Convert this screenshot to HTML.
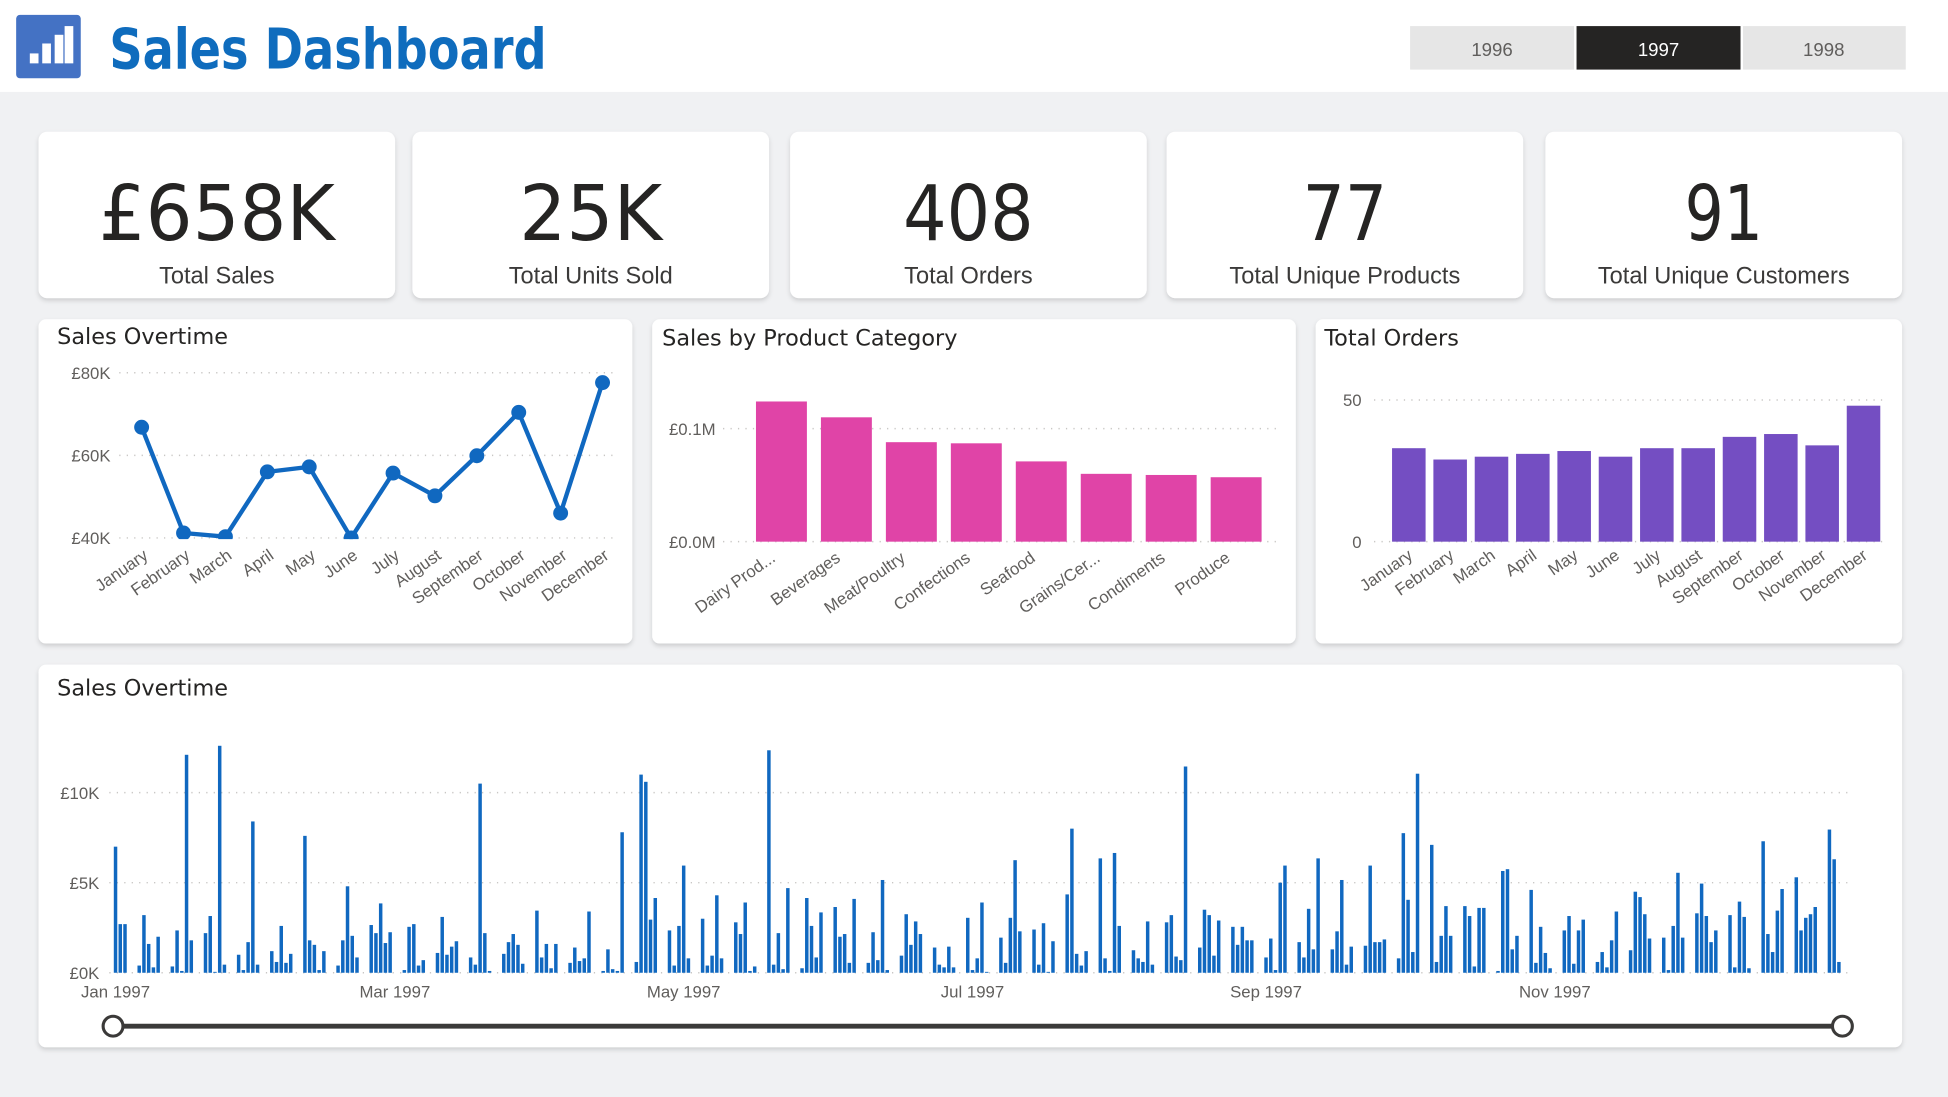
<!DOCTYPE html>
<html><head><meta charset="utf-8">
<style>
html,body{margin:0;padding:0;background:#f0f1f3;}
svg{display:block}
text{font-family:"Liberation Sans","DejaVu Sans",sans-serif;}
.tick{font-size:13.5px;fill:#605e5c;}
.ttl{font-family:"DejaVu Sans",sans-serif;font-size:18px;fill:#252423;}
.kpi{font-family:"DejaVu Sans",sans-serif;font-size:62px;fill:#252423;}
.kpil{font-family:"Liberation Sans",sans-serif;font-size:19px;fill:#3b3a39;}
</style></head>
<body>
<svg id="root" width="1948" height="1097" viewBox="0 0 1568 883" xmlns="http://www.w3.org/2000/svg">
<defs>
<filter id="sh" x="-5%" y="-5%" width="110%" height="115%"><feDropShadow dx="0" dy="2" stdDeviation="2" flood-color="#000" flood-opacity="0.15"/></filter>
<clipPath id="lineclip"><rect x="60" y="290" width="440" height="144"/></clipPath>
</defs>
<rect x="0" y="0" width="1568" height="883" fill="#f0f1f3"/>
<g>
<rect x="0" y="0" width="1568" height="74" fill="#ffffff"/>
<g>
<rect x="13" y="12" width="52" height="51" rx="3" fill="#4472c4"/>
<rect x="24" y="43" width="7" height="8" fill="#fff"/>
<rect x="34" y="35" width="7" height="16" fill="#fff"/>
<rect x="44" y="28" width="7" height="23" fill="#fff"/>
<rect x="53" y="21" width="7" height="30" fill="#fff" transform="translate(-1,0)"/>
</g>
<text x="88" y="55" font-size="45" font-weight="bold" fill="#0f6cbd" textLength="352" lengthAdjust="spacingAndGlyphs" style="font-family:'DejaVu Sans',sans-serif">Sales Dashboard</text>
<g>
<rect x="1135" y="21" width="132" height="35" fill="#e6e6e6"/>
<text x="1201" y="45" text-anchor="middle" font-size="15" fill="#605e5c">1996</text>
<rect x="1269" y="21" width="132" height="35" fill="#252423"/>
<text x="1335" y="45" text-anchor="middle" font-size="15" fill="#ffffff">1997</text>
<rect x="1403" y="21" width="131" height="35" fill="#e6e6e6"/>
<text x="1468" y="45" text-anchor="middle" font-size="15" fill="#605e5c">1998</text>
</g>
</g>
<g id="kpis"></g>
<g>
<rect x="31" y="257" width="478" height="261" rx="6" fill="#fff" filter="url(#sh)"/>
<text x="46" y="277" class="ttl">Sales Overtime</text>
<g id="linechart"></g>
</g>
<g>
<rect x="525" y="257" width="518" height="261" rx="6" fill="#fff" filter="url(#sh)"/>
<text x="533" y="278" class="ttl">Sales by Product Category</text>
<g id="catchart"></g>
</g>
<g>
<rect x="1059" y="257" width="472" height="261" rx="6" fill="#fff" filter="url(#sh)"/>
<text x="1066" y="278" class="ttl">Total Orders</text>
<g id="ordchart"></g>
</g>
<g>
<rect x="31" y="535" width="1500" height="308" rx="6" fill="#fff" filter="url(#sh)"/>
<text x="46" y="560" class="ttl">Sales Overtime</text>
<g id="dailychart"></g>
<g>
<line x1="91" y1="826" x2="1483" y2="826" stroke="#3b3a39" stroke-width="4"/>
<circle cx="91" cy="826" r="8" fill="#fff" stroke="#3b3a39" stroke-width="2.5"/>
<circle cx="1483" cy="826" r="8" fill="#fff" stroke="#3b3a39" stroke-width="2.5"/>
</g>
</g>
</svg>
<script>
const kpiValues = ["£658K","25K","408","77","91"];
const kpiLabels = ["Total Sales","Total Units Sold","Total Orders","Total Unique Products","Total Unique Customers"];
const months = ["January","February","March","April","May","June","July","August","September","October","November","December"];
const monthlySales = [66.8,41.2,40.3,56.0,57.2,40.0,55.7,50.2,59.9,70.4,46.0,77.6];
const lineTicks = [40,60,80];
const categories = ["Dairy Prod...","Beverages","Meat/Poultry","Confections","Seafood","Grains/Cer...","Condiments","Produce"];
const categorySales = [0.124,0.110,0.088,0.087,0.071,0.060,0.059,0.057];
const catTicks = [0,0.1];
const monthlyOrders = [33,29,30,31,32,30,33,33,37,38,34,48];
const orderTicks = [0,50];
const dailyTicks = [0,5,10];
const dailyTickLabels = ["Jan 1997","Mar 1997","May 1997","Jul 1997","Sep 1997","Nov 1997"];
// weekday sales in £K, 1 Jan 1997 .. 31 Dec 1997 (weekends skipped)
const dailySales = [
7.0,2.7,2.7,
0.4,3.2,1.6,0.3,2.0, 0.35,2.35,0.1,12.1,1.8, 2.2,3.15,0.05,12.6,0.45, 1.0,0.15,1.7,8.4,0.45,
1.2,0.6,2.6,0.55,1.05, 7.6,1.8,1.55,0.15,1.2, 0.4,1.8,4.8,2.05,0.85, 2.65,2.2,3.85,1.65,2.25,
0.15,2.55,2.7,0.4,0.7, 1.1,3.1,1.0,1.45,1.75, 0.85,0.45,10.5,2.2,0.1, 1.05,1.7,2.15,1.55,0.5,
3.45,0.85,1.6,0.25,1.6, 0.55,1.4,0.65,0.8,3.4, 0.1,1.3,0.2,0.1,7.8, 0.6,11.0,10.6,2.95,4.15,
2.35,0.4,2.6,5.95,0.8, 3.0,0.4,0.95,4.3,0.8, 2.8,2.15,3.9,0.1,0.35, 12.35,0.45,2.2,0.2,4.7,
0.25,4.15,2.6,0.85,3.35, 3.65,2.0,2.15,0.55,4.1, 0.55,2.25,0.7,5.15,0.15, 0.95,3.25,1.55,2.85,2.15,
1.4,0.45,0.3,1.45,0.3, 3.05,0.15,0.8,3.9,0.05, 1.95,0.55,3.05,6.25,2.3, 2.4,0.45,2.75,0.05,1.75,
4.35,8.0,1.05,0.4,1.2, 6.35,0.8,0.1,6.65,2.6, 1.25,0.8,0.6,2.85,0.45, 2.8,3.2,0.9,0.7,11.45,
1.4,3.5,3.2,0.95,2.9, 2.55,1.55,2.55,1.8,1.8, 0.85,1.9,0.15,5.0,5.95, 1.7,0.85,3.55,1.3,6.35,
1.3,2.3,5.15,0.45,1.45, 1.5,5.95,1.7,1.7,1.85, 0.8,7.75,4.05,1.15,11.05, 7.1,0.6,2.05,3.7,2.05,
3.7,3.15,0.35,3.6,3.6, 0.1,5.65,5.75,1.3,2.05, 4.6,0.55,2.55,1.1,0.25, 2.35,3.15,0.5,2.35,2.95,
0.6,1.15,0.3,1.8,3.4, 1.25,4.5,4.2,3.25,1.9, 1.95,0.15,2.6,5.55,1.95, 3.3,4.95,3.15,1.7,2.35,
3.2,0.3,3.95,3.1,0.25, 7.3,2.15,1.15,3.45,4.65, 5.3,2.35,3.05,3.25,3.65, 7.95,6.3,0.6
];

const NS="http://www.w3.org/2000/svg";
function mk(parent,tag,attrs,txt){const e=document.createElementNS(NS,tag);for(const k in attrs)e.setAttribute(k,attrs[k]);if(txt!==undefined)e.textContent=txt;parent.appendChild(e);return e;}

// KPI cards
const kg=document.getElementById('kpis');
const kx=[31,332,636,939,1244];
const kw=[190,115,105,68,63];
kpiValues.forEach((v,i)=>{
  const g=mk(kg,'g',{});
  
  
  mk(g,'rect',{x:kx[i],y:106,width:287,height:134,rx:7,fill:'#fff',filter:'url(#sh)'});
  const t=mk(g,'text',{x:kx[i]+143.5,y:193,'text-anchor':'middle',class:'kpi',textLength:kw[i],lengthAdjust:'spacingAndGlyphs'},v);
  
  
  const l=mk(g,'text',{x:kx[i]+143.5,y:228,'text-anchor':'middle',class:'kpil'},kpiLabels[i]);
  
  
});

function gridline(g,x1,x2,y){mk(g,'line',{x1:x1,x2:x2,y1:y,y2:y,stroke:'#c8c6c4','stroke-width':1.2,'stroke-dasharray':'1 5'});}
function rotLabel(g,x,y,t){return mk(g,'text',{x:x,y:y,class:'tick','text-anchor':'end',transform:`rotate(-35 ${x} ${y})`},t);}

// Line chart
(function(){
  const g=document.getElementById('linechart');
  const y=v=>433-(v-40)*(433-300)/40;
  const x=i=>114+i*(485-114)/11;
  lineTicks.forEach(t=>{gridline(g,96,496,y(t));const e=mk(g,'text',{x:89,y:y(t)+5,class:'tick','text-anchor':'end'},'£'+t+'K');});
  const cg=mk(g,'g',{'clip-path':'url(#lineclip)'});
  const p=mk(cg,'polyline',{points:monthlySales.map((v,i)=>x(i)+','+y(v)).join(' '),fill:'none',stroke:'#1068c0','stroke-width':3.5,'stroke-linejoin':'round'});
  
  
  monthlySales.forEach((v,i)=>{const c=mk(cg,'circle',{cx:x(i),cy:y(v),r:6,fill:'#1068c0'});});
  months.forEach((m,i)=>{const e=rotLabel(g,x(i)+6,449,m);});
})();

// Category chart
(function(){
  const g=document.getElementById('catchart');
  const y=v=>436-v*(436-345)/0.1;
  const x=i=>629+i*(995-629)/7;
  catTicks.forEach(t=>{gridline(g,582,1032,y(t));const e=mk(g,'text',{x:576,y:y(t)+5,class:'tick','text-anchor':'end'},'£'+t.toFixed(1)+'M');});
  categorySales.forEach((v,i)=>{const r=mk(g,'rect',{x:x(i)-20.5,y:y(v),width:41,height:436-y(v),fill:'#e044a7'});});
  categories.forEach((c,i)=>{const e=rotLabel(g,x(i)-4,451,c);});
})();

// Orders chart
(function(){
  const g=document.getElementById('ordchart');
  const y=v=>436-v*(436-322)/50;
  const x=i=>1134+i*(1500-1134)/11;
  orderTicks.forEach(t=>{gridline(g,1106,1518,y(t));const e=mk(g,'text',{x:1096,y:y(t)+5,class:'tick','text-anchor':'end'},String(t));});
  monthlyOrders.forEach((v,i)=>{const r=mk(g,'rect',{x:x(i)-13.5,y:y(v),width:27,height:436-y(v),fill:'#744ec2'});});
  months.forEach((m,i)=>{const e=rotLabel(g,x(i)+4,449,m);});
})();

// Daily chart
(function(){
  const g=document.getElementById('dailychart');
  const y=v=>783-v*(783-638)/10;
  const dayW=(1484-93)/365;
  const x=d=>93+d*dayW;
  dailyTicks.forEach(t=>{gridline(g,88,1490,y(t));const e=mk(g,'text',{x:80,y:y(t)+5,class:'tick','text-anchor':'end'},'£'+t+'K');});
  let d=0,k=0;
  const start=new Date(Date.UTC(1997,0,1));
  while(k<dailySales.length && d<365){
    const dt=new Date(start.getTime()+d*86400000);
    const wd=dt.getUTCDay();
    if(wd!==0&&wd!==6){
      const v=dailySales[k];
      const r=mk(g,'rect',{x:x(d)-1.4,y:y(v),width:2.8,height:783-y(v),fill:'#1068c0'});
      
      
      k++;
    }
    d++;
  }
  dailyTickLabels.forEach((t,i)=>{
    const dt=new Date(Date.UTC(1997,i*2,1));
    const dd=(dt-start)/86400000;
    const e=mk(g,'text',{x:x(dd),y:803,class:'tick','text-anchor':'middle'},t);
    
    
  });
})();
</script>
</body></html>
